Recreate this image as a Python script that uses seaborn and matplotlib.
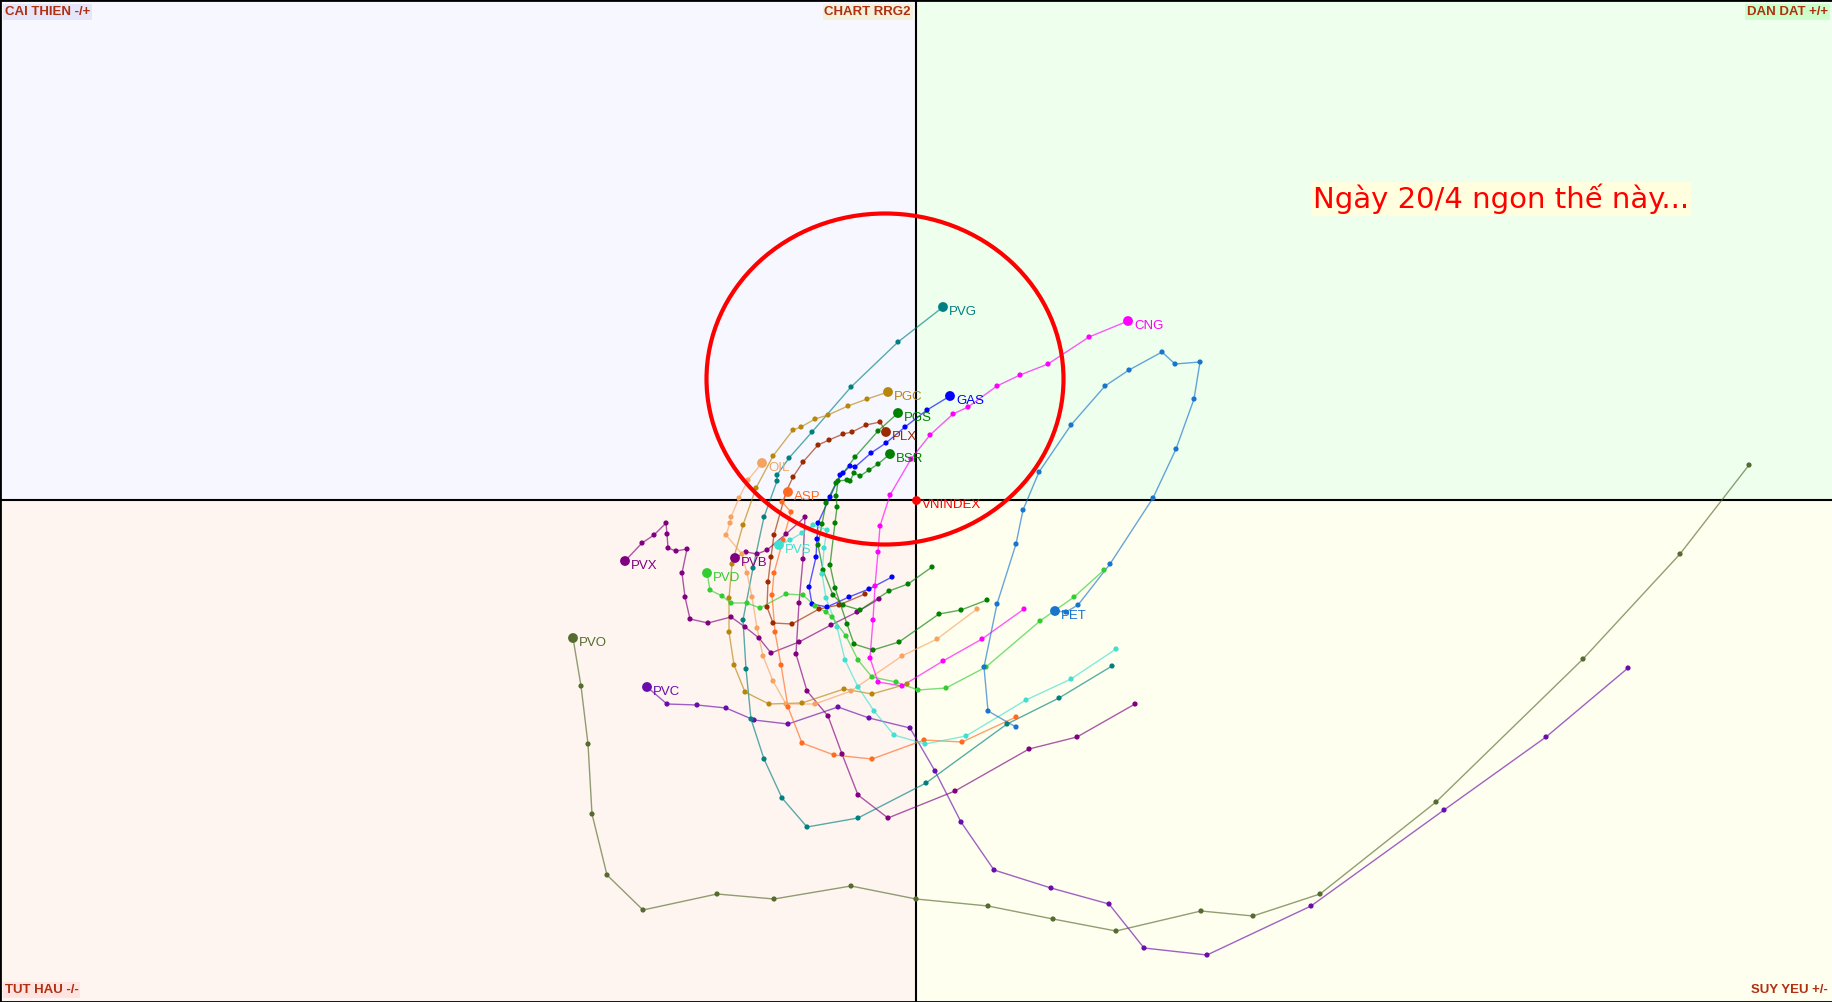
import numpy as np
import pandas as pd
import matplotlib
matplotlib.use('Agg')
import matplotlib.pyplot as plt
import seaborn as sns
from matplotlib.patches import Ellipse, Rectangle

sns.set_theme(style='white')
plt.rcParams['font.family'] = ['Liberation Sans', 'DejaVu Sans']

# ---------------- data (RS-Ratio x, RS-Momentum y), oldest -> newest ----------------
pvo_x = [108.33, 107.64, 106.67, 105.20, 104.04, 103.37, 102.85, 102.00, 101.37, 100.72, 100.00, 99.35, 98.58, 98.01, 97.27, 96.91, 96.76, 96.72, 96.65, 96.57]
pvo_y = [100.35, 99.46, 98.41, 96.98, 96.06, 95.84, 95.89, 95.69, 95.81, 95.94, 96.01, 96.14, 96.01, 96.06, 95.90, 96.25, 96.86, 97.56, 98.14, 98.62]

pvc_x = [107.12, 106.30, 105.28, 103.95, 102.91, 102.28, 101.93, 101.35, 100.78, 100.45, 100.19, 99.94, 99.53, 99.22, 98.72, 98.38, 98.10, 97.81, 97.51, 97.31]
pvc_y = [98.32, 97.63, 96.90, 95.94, 95.45, 95.52, 95.96, 96.12, 96.30, 96.78, 97.29, 97.72, 97.82, 97.93, 97.76, 97.80, 97.92, 97.95, 97.96, 98.13]

pvx_x = [99.63, 99.41, 99.15, 98.83, 98.55, 98.43, 98.29, 98.15, 97.92, 97.74, 97.69, 97.66, 97.71, 97.60, 97.52, 97.51, 97.50, 97.38, 97.26, 97.09]
pvx_y = [99.01, 98.88, 98.75, 98.58, 98.47, 98.62, 98.73, 98.83, 98.77, 98.81, 99.03, 99.27, 99.51, 99.49, 99.52, 99.66, 99.77, 99.65, 99.57, 99.39]

pvb_x = [102.19, 101.61, 101.13, 100.39, 99.72, 99.42, 99.26, 99.12, 98.91, 98.80, 98.83, 98.87, 98.89, 98.70, 98.51, 98.41, 98.30, 98.19]
pvb_y = [97.96, 97.63, 97.51, 97.09, 96.82, 97.05, 97.46, 97.84, 98.09, 98.46, 98.97, 99.41, 99.83, 99.66, 99.50, 99.46, 99.48, 99.42]

pvg_x = [101.96, 101.43, 100.91, 100.10, 99.42, 98.91, 98.66, 98.48, 98.35, 98.30, 98.27, 98.37, 98.48, 98.61, 98.61, 98.73, 98.96, 99.35, 99.82, 100.27]
pvg_y = [98.34, 98.02, 97.76, 97.17, 96.82, 96.73, 97.02, 97.41, 97.81, 98.31, 98.80, 99.32, 99.83, 100.19, 100.25, 100.42, 100.68, 101.13, 101.58, 101.93]

pgc_x = [99.91, 99.56, 99.28, 98.86, 98.53, 98.29, 98.18, 98.13, 98.13, 98.16, 98.27, 98.40, 98.57, 98.77, 98.85, 98.99, 99.12, 99.32, 99.51, 99.72]
pgc_y = [98.16, 98.06, 98.11, 97.97, 97.96, 98.08, 98.35, 98.68, 99.02, 99.36, 99.75, 100.12, 100.44, 100.70, 100.73, 100.81, 100.85, 100.94, 101.01, 101.08]

plx_x = [99.49, 99.23, 99.03, 98.76, 98.57, 98.51, 98.52, 98.55, 98.58, 98.70, 98.77, 98.87, 99.02, 99.13, 99.27, 99.36, 99.50, 99.64, 99.70]
plx_y = [99.06, 98.95, 98.91, 98.76, 98.77, 98.93, 99.18, 99.43, 99.65, 100.08, 100.23, 100.38, 100.55, 100.60, 100.66, 100.68, 100.75, 100.78, 100.68]

gas_x = [99.76, 99.53, 99.33, 99.11, 98.96, 98.93, 99.00, 99.01, 99.02, 99.14, 99.24, 99.27, 99.34, 99.39, 99.55, 99.70, 99.89, 100.11, 100.34]
gas_y = [99.23, 99.11, 99.03, 98.93, 98.96, 99.13, 99.43, 99.61, 99.77, 100.03, 100.25, 100.27, 100.34, 100.33, 100.47, 100.57, 100.73, 100.90, 101.04]

pgs_x = [100.16, 99.92, 99.73, 99.44, 99.27, 99.17, 99.07, 99.02, 99.06, 99.10, 99.20, 99.39, 99.62, 99.82]
pgs_y = [99.33, 99.16, 99.09, 98.90, 98.95, 99.05, 99.30, 99.55, 99.76, 99.97, 100.17, 100.43, 100.69, 100.87]

bsr_x = [100.71, 100.45, 100.23, 99.83, 99.57, 99.38, 99.31, 99.19, 99.14, 99.19, 99.21, 99.20, 99.22, 99.31, 99.34, 99.38, 99.44, 99.53, 99.62, 99.74]
bsr_y = [99.00, 98.90, 98.86, 98.58, 98.50, 98.56, 98.76, 99.12, 99.35, 99.77, 99.93, 100.04, 100.19, 100.20, 100.19, 100.27, 100.24, 100.30, 100.36, 100.46]

oil_x = [100.61, 100.21, 99.86, 99.35, 98.99, 98.70, 98.57, 98.47, 98.41, 98.36, 98.31, 98.26, 98.10, 98.14, 98.15, 98.23, 98.32, 98.46]
oil_y = [98.91, 98.61, 98.44, 98.09, 97.96, 97.96, 98.19, 98.44, 98.72, 99.03, 99.27, 99.46, 99.65, 99.77, 99.83, 100.02, 100.20, 100.37]

asp_x = [101.00, 100.46, 100.08, 99.56, 99.18, 98.86, 98.72, 98.65, 98.59, 98.56, 98.58, 98.67, 98.75, 98.66, 98.72]
asp_y = [97.83, 97.58, 97.60, 97.41, 97.45, 97.57, 97.93, 98.35, 98.68, 99.05, 99.27, 99.60, 99.88, 99.98, 100.08]

pvs_x = [102.00, 101.55, 101.10, 100.50, 100.09, 99.78, 99.58, 99.42, 99.29, 99.21, 99.10, 99.06, 99.08, 99.11, 98.97, 98.86, 98.74, 98.63]
pvs_y = [98.51, 98.21, 98.00, 97.64, 97.56, 97.65, 97.89, 98.13, 98.40, 98.73, 99.02, 99.26, 99.52, 99.70, 99.75, 99.67, 99.60, 99.55]

pvd_x = [101.88, 101.58, 101.24, 100.70, 100.30, 100.02, 99.80, 99.56, 99.42, 99.30, 99.16, 99.10, 98.99, 98.87, 98.70, 98.44, 98.31, 98.15, 98.06, 97.94, 97.91]
pvd_y = [99.30, 99.03, 98.79, 98.33, 98.12, 98.10, 98.18, 98.23, 98.40, 98.64, 98.83, 98.88, 98.94, 99.05, 99.06, 98.92, 98.97, 98.97, 99.04, 99.10, 99.27]

cng_x = [101.08, 100.66, 100.27, 99.86, 99.62, 99.54, 99.57, 99.59, 99.62, 99.64, 99.74, 99.95, 100.14, 100.37, 100.52, 100.81, 101.04, 101.32, 101.73, 102.12]
cng_y = [98.91, 98.61, 98.39, 98.14, 98.18, 98.42, 98.80, 99.14, 99.48, 99.74, 100.05, 100.41, 100.65, 100.86, 100.93, 101.14, 101.25, 101.36, 101.63, 101.79]

pet_x = [101.00, 100.72, 100.68, 100.81, 101.00, 101.07, 101.23, 101.55, 101.89, 102.13, 102.46, 102.59, 102.84, 102.78, 102.60, 102.37, 101.94, 101.62, 101.50, 101.39]
pet_y = [97.73, 97.89, 98.33, 98.96, 99.56, 99.90, 100.28, 100.75, 101.14, 101.30, 101.48, 101.36, 101.38, 101.01, 100.51, 100.02, 99.36, 98.95, 98.88, 98.89]

# ---------------- styles ----------------
series = {
    'PVO': (pvo_x, pvo_y), 'PVC': (pvc_x, pvc_y), 'PVX': (pvx_x, pvx_y), 'PVB': (pvb_x, pvb_y),
    'PVG': (pvg_x, pvg_y), 'PGC': (pgc_x, pgc_y), 'PLX': (plx_x, plx_y), 'GAS': (gas_x, gas_y),
    'PGS': (pgs_x, pgs_y), 'BSR': (bsr_x, bsr_y), 'OIL': (oil_x, oil_y), 'ASP': (asp_x, asp_y),
    'PVS': (pvs_x, pvs_y), 'PVD': (pvd_x, pvd_y), 'CNG': (cng_x, cng_y), 'PET': (pet_x, pet_y),
}
colors = {
    'PVO': '#556B2F', 'PVC': '#6A0DAD', 'PVX': '#800080', 'PVB': '#800080',
    'PVG': '#008080', 'PGC': '#B8860B', 'PLX': '#9C2A00', 'GAS': '#0000FF',
    'PGS': '#008000', 'BSR': '#008000', 'OIL': '#F4A460', 'ASP': '#FF6A20',
    'PVS': '#40E0D0', 'PVD': '#32CD32', 'CNG': '#FF00FF', 'PET': '#1874CD',
}

rows = []
for t, (xs, ys) in series.items():
    for i, (x, y) in enumerate(zip(xs, ys)):
        rows.append({'ticker': t, 'step': i, 'rs_ratio': x, 'rs_mom': y})
df = pd.DataFrame(rows)
heads = df.groupby('ticker', sort=False).tail(1)

fig = plt.figure(figsize=(18.33, 10.02), dpi=100)
ax = fig.add_axes([0, 0, 1, 1])
xmin, xmax = 90.84, 109.17
ymin, ymax = 94.98, 105.0
ax.set_xlim(xmin, xmax)
ax.set_ylim(ymin, ymax)

# quadrant backgrounds
ax.add_patch(Rectangle((xmin, 100), 100 - xmin, ymax - 100, fc='#F7F8FF', ec='none', zorder=0))
ax.add_patch(Rectangle((100, 100), xmax - 100, ymax - 100, fc='#EEFFEE', ec='none', zorder=0))
ax.add_patch(Rectangle((xmin, ymin), 100 - xmin, 100 - ymin, fc='#FFF5F0', ec='none', zorder=0))
ax.add_patch(Rectangle((100, ymin), xmax - 100, 100 - ymin, fc='#FFFFF0', ec='none', zorder=0))

ax.axhline(100, color='black', lw=1.5, zorder=1)
ax.axvline(100, color='black', lw=1.5, zorder=1)

sns.lineplot(data=df, x='rs_ratio', y='rs_mom', hue='ticker', palette=colors, sort=False,
             estimator=None, legend=False, lw=1.0, alpha=0.65, ax=ax, zorder=2)
sns.scatterplot(data=df, x='rs_ratio', y='rs_mom', hue='ticker', palette=colors, s=14,
                linewidth=0, legend=False, ax=ax, zorder=3)
sns.scatterplot(data=heads, x='rs_ratio', y='rs_mom', hue='ticker', palette=colors, s=50,
                linewidth=0, legend=False, ax=ax, zorder=4)

for _, r in heads.iterrows():
    ax.annotate(r['ticker'], (r['rs_ratio'], r['rs_mom']), xytext=(4.5, -3.5),
                textcoords='offset points', color=colors[r['ticker']], fontsize=9.5,
                ha='left', va='center', zorder=5)

# benchmark
ax.scatter([100], [100], s=40, color='red', zorder=5, linewidths=0)
ax.annotate('VNINDEX', (100, 100), xytext=(4.5, -3.5), textcoords='offset points',
            color='red', fontsize=9.5, ha='left', va='center', zorder=5)

# annotation circle
ax.add_patch(Ellipse((99.69, 101.21), 3.57, 3.31, fill=False, ec='red', lw=3, zorder=6))
ax.text(105.85, 103.01, 'Ngày 20/4 ngon thế này...', color='red', fontsize=21,
        family=['DejaVu Sans'], ha='center', va='center', zorder=6,
        bbox=dict(boxstyle='square,pad=0.05', fc='#FFFFE0', ec='none'))

# corner labels
lab_c = '#B03010'
kw = dict(transform=ax.transAxes, color=lab_c, fontsize=9.5, fontweight='bold', zorder=7)
ax.text(5 / 1833, 1 - 6 / 1002, 'CAI THIEN -/+', ha='left', va='top',
        bbox=dict(boxstyle='square,pad=0.12', fc='#E6E6FA', ec='none'), **kw)
ax.text(911 / 1833, 1 - 6 / 1002, 'CHART RRG2', ha='right', va='top',
        bbox=dict(boxstyle='square,pad=0.12', fc='#F3F0DC', ec='none'), **kw)
ax.text(1 - 5 / 1833, 1 - 6 / 1002, 'DAN DAT +/+', ha='right', va='top',
        bbox=dict(boxstyle='square,pad=0.12', fc='#CCFFCC', ec='none'), **kw)
ax.text(5 / 1833, 6 / 1002, 'TUT HAU -/-', ha='left', va='bottom',
        bbox=dict(boxstyle='square,pad=0.12', fc='#FFE4E1', ec='none'), **kw)
ax.text(1 - 5 / 1833, 6 / 1002, 'SUY YEU +/-', ha='right', va='bottom',
        bbox=dict(boxstyle='square,pad=0.12', fc='#FFFFF0', ec='none'), **kw)

ax.set_xticks([])
ax.set_yticks([])
ax.set_xlabel('')
ax.set_ylabel('')
for s in ax.spines.values():
    s.set_visible(True)
    s.set_color('black')
    s.set_linewidth(2)

fig.savefig('out.png', dpi=100)
